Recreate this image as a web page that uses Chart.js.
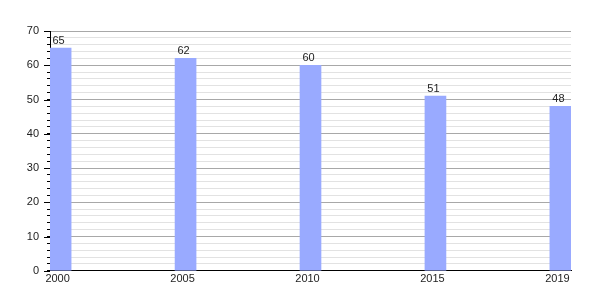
<!DOCTYPE html>
<html>
<head>
<meta charset="utf-8">
<script src="https://cdn.jsdelivr.net/npm/chart.js@4/dist/chart.umd.min.js"></script>
<style>
html,body{margin:0;padding:0;background:#fff;}
#wrap{width:600px;height:300px;position:relative;}
</style>
</head>
<body>
<div id="wrap"><canvas id="c" width="600" height="300"></canvas></div>
<script>
const years = ['2000', '2005', '2010', '2015', '2019'];
const values = [65, 62, 60, 51, 48];
const yTickLabels = [0, 10, 20, 30, 40, 50, 60, 70];

const points = values.map((v, i) => ({x: i, y: v}));

const valueLabels = {
  id: 'valueLabels',
  afterDatasetsDraw(chart) {
    const ctx = chart.ctx;
    const meta = chart.getDatasetMeta(0);
    ctx.save();
    ctx.font = '11px "Liberation Sans", Arial, sans-serif';
    ctx.fillStyle = '#222';
    ctx.textAlign = 'center';
    ctx.textBaseline = 'bottom';
    meta.data.forEach((el, i) => {
      ctx.fillText(String(values[i]), el.x - 2, el.y - 2);
    });
    ctx.restore();
  }
};

const majorTicks = {
  id: 'majorTicks',
  afterDraw(chart) {
    const ys = chart.scales.y;
    const ctx = chart.ctx;
    ctx.save();
    ctx.strokeStyle = '#000';
    ctx.lineWidth = 1;
    yTickLabels.forEach(v => {
      const py = Math.round(ys.getPixelForValue(v)) + 0.5;
      ctx.beginPath();
      ctx.moveTo(ys.right - 6, py);
      ctx.lineTo(ys.right, py);
      ctx.stroke();
    });
    ctx.restore();
  }
};

new Chart(document.getElementById('c'), {
  type: 'bar',
  data: {
    datasets: [{
      data: points,
      backgroundColor: 'rgb(153,170,255)',
      borderWidth: 0,
      barThickness: 21
    }]
  },
  options: {
    responsive: false,
    animation: false,
    devicePixelRatio: 1,
    layout: {padding: {left: 0, right: 29, top: 31, bottom: 12}},
    plugins: {legend: {display: false}, tooltip: {enabled: false}},
    scales: {
      x: {
        type: 'linear',
        offset: false,
        min: -0.085,
        max: 4.085,
        afterBuildTicks(scale) {
          scale.ticks = years.map((y, i) => ({value: i}));
        },
        ticks: {
          callback: (v) => years[v] !== undefined ? years[v] : '',
          font: {family: '"Liberation Sans", Arial, sans-serif', size: 11},
          color: '#222',
          maxRotation: 0,
          autoSkip: false,
          padding: 2,
          labelOffset: -3
        },
        grid: {display: false, drawTicks: false},
        border: {display: true, color: '#000', width: 1}
      },
      y: {
        min: 0,
        max: 70,
        afterFit(scale) { scale.width = 50; },
        ticks: {
          stepSize: 2,
          autoSkip: false,
          callback: (v) => (v % 10 === 0 ? String(v) : ''),
          font: {family: '"Liberation Sans", Arial, sans-serif', size: 11},
          color: '#222',
          padding: 8
        },
        grid: {
          color: (c) => (c.tick && c.tick.value % 10 === 0 ? '#a8a8a8' : '#e2e2e2'),
          tickColor: '#000',
          tickLength: 3,
          drawOnChartArea: true
        },
        border: {display: true, color: '#000', width: 1}
      }
    }
  },
  plugins: [valueLabels, majorTicks]
});
</script>
</body>
</html>
